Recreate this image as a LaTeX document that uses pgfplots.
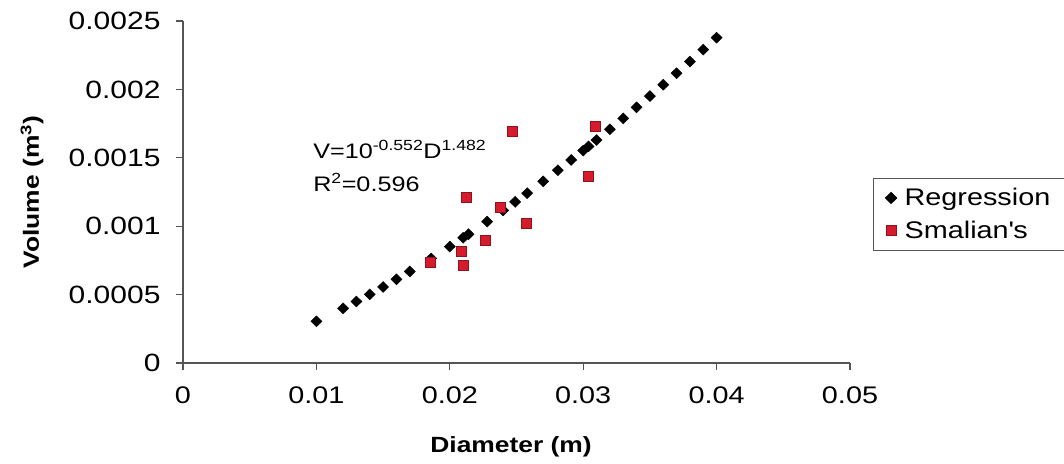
\documentclass[border=0pt]{standalone}
\usepackage{fontspec}
\setmainfont{Liberation Sans}[FakeStretch=1.2]
\usepackage{pgfplots}
\pgfplotsset{compat=1.18}
\definecolor{smred}{RGB}{214,28,44}
\definecolor{smredborder}{RGB}{140,20,28}
\definecolor{axgray}{RGB}{85,85,85}
\begin{document}
\begin{tikzpicture}[x=1pt,y=1pt]
\path[use as bounding box] (0,0) rectangle (1064,463);
\begin{axis}[
  at={(183pt,100pt)}, anchor=south west,
  scale only axis, width=667pt, height=342pt,
  xmin=0, xmax=0.05, ymin=0, ymax=0.0025,
  scaled ticks=false,
  axis x line*=bottom, axis y line*=left,
  axis line style={axgray, line width=1.2pt, -},
  xtick={0,0.01,0.02,0.03,0.04,0.05},
  xticklabels={0,0.01,0.02,0.03,0.04,0.05},
  ytick={0,0.0005,0.001,0.0015,0.002,0.0025},
  yticklabels={0,0.0005,0.001,0.0015,0.002,0.0025},
  tick align=outside, major tick length=7pt,
  tick style={axgray, line width=1.2pt},
  ticklabel style={font=\fontsize{24}{28}\selectfont, text=black},
  xticklabel style={yshift=-13pt},
  yticklabel style={xshift=-12pt, font=\fontsize{25}{28}\selectfont},
  xlabel={Diameter (m)},
  ylabel={Volume (m\textsuperscript{3})},
  label style={font=\bfseries\fontsize{22}{26}\selectfont},
  xlabel style={at={(axis description cs:0.4918,-0.245)}, anchor=center},
  ylabel style={at={(axis description cs:-0.2264,0.5)}, anchor=center},
  clip=false,
  legend style={at={(axis description cs:1.0345,0.541)}, anchor=north west,
    draw=axgray, line width=1pt, font=\fontsize{24}{28}\selectfont,
    row sep=10pt, inner xsep=12pt, inner ysep=8pt,
    /tikz/every odd column/.append style={column sep=6pt}},
  legend cell align=left,
]
\addplot[only marks, mark=diamond*, mark size=5.5pt, mark options={xscale=1.35, fill=black, draw=black}] coordinates {
(0.0100,0.0003048)
(0.0120,0.0003994)
(0.0130,0.0004496)
(0.0140,0.0005018)
(0.0150,0.0005558)
(0.0160,0.0006116)
(0.0170,0.0006691)
(0.0186,0.0007644)
(0.0200,0.0008513)
(0.0210,0.0009153)
(0.0214,0.0009412)
(0.0228,0.0010338)
(0.0240,0.0011153)
(0.0249,0.0011779)
(0.0258,0.0012415)
(0.0270,0.0013282)
(0.0281,0.0014093)
(0.0291,0.0014842)
(0.0300,0.0015527)
(0.0304,0.0015834)
(0.0310,0.0016300)
(0.0320,0.0017084)
(0.0330,0.0017881)
(0.0340,0.0018689)
(0.0350,0.0019511)
(0.0360,0.0020342)
(0.0370,0.0021184)
(0.0380,0.0022036)
(0.0390,0.0022908)
(0.0400,0.0023781)
};
\addlegendentry{Regression\hspace*{60pt}}
\addplot[only marks, mark=square*, mark size=5pt, mark options={fill=smred, draw=smredborder, line width=0.8pt}] coordinates {
(0.02471,0.001691)
(0.03088,0.001732)
(0.03038,0.001362)
(0.02127,0.001211)
(0.02382,0.001138)
(0.02576,0.001021)
(0.02264,0.000894)
(0.02089,0.000814)
(0.02101,0.000716)
(0.01857,0.000733)
};
\addlegendentry{Smalian\textquotesingle s}
\node[anchor=west, font=\fontsize{21}{24}\selectfont, inner sep=0pt] at (axis cs:0.00975,0.00156) {V=10\textsuperscript{-0.552}D\textsuperscript{1.482}};
\node[anchor=west, font=\fontsize{21}{24}\selectfont, inner sep=0pt] at (axis cs:0.00975,0.00132) {R\textsuperscript{2}=0.596};
\end{axis}
\end{tikzpicture}
\end{document}
